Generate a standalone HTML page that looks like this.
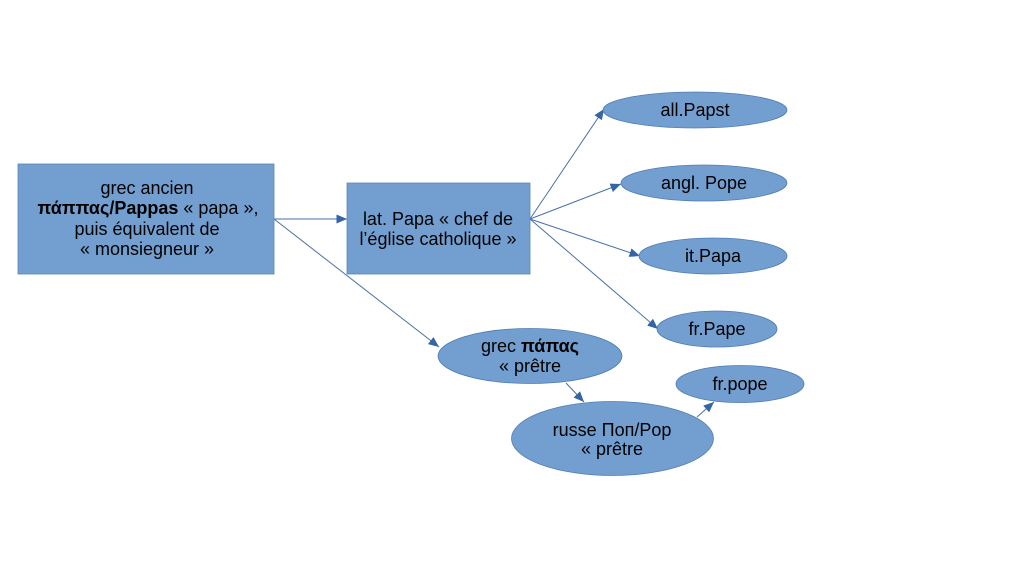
<!DOCTYPE html>
<html>
<head>
<meta charset="utf-8">
<style>
  html, body { margin:0; padding:0; background:#ffffff; }
  svg { display:block; }
  text { font-family: "Liberation Sans", "DejaVu Sans", sans-serif; font-size:18px; fill:#000; }
</style>
</head>
<body>
<svg width="1024" height="576" viewBox="0 0 1024 576" xmlns="http://www.w3.org/2000/svg">
  <defs>
    <marker id="ah" markerUnits="userSpaceOnUse" markerWidth="11" markerHeight="9" refX="10.5" refY="4.5" orient="auto">
      <path d="M0,0 L10.5,4.5 L0,9 z" fill="#3465a4"/>
    </marker>
  </defs>
  <rect width="1024" height="576" fill="#ffffff"/>

  <!-- connectors -->
  <g stroke="#4a70a8" stroke-width="1" fill="none" marker-end="url(#ah)">
    <line x1="274" y1="219" x2="347" y2="219"/>
    <line x1="274" y1="219" x2="439" y2="347"/>
    <line x1="530" y1="219" x2="604" y2="109"/>
    <line x1="530" y1="219" x2="621" y2="184"/>
    <line x1="530" y1="219" x2="640" y2="256"/>
    <line x1="530" y1="219" x2="658" y2="329"/>
    <line x1="566" y1="383" x2="584" y2="402"/>
    <line x1="697" y1="417" x2="714" y2="402"/>
  </g>

  <!-- boxes -->
  <rect x="18" y="164" width="256" height="110" fill="#729fcf" stroke="#5a85b8" stroke-width="0.8"/>
  <rect x="347" y="183" width="183" height="91" fill="#729fcf" stroke="#5a85b8" stroke-width="0.8"/>

  <!-- ellipses -->
  <g fill="#729fcf" stroke="#4f7db5" stroke-width="0.8">
    <ellipse cx="695" cy="110" rx="92" ry="18"/>
    <ellipse cx="704" cy="183" rx="83" ry="18"/>
    <ellipse cx="713" cy="256" rx="74" ry="18"/>
    <ellipse cx="717" cy="329" rx="60" ry="18"/>
    <ellipse cx="530" cy="356" rx="92" ry="27.5"/>
    <ellipse cx="612.5" cy="438.5" rx="101" ry="37"/>
    <ellipse cx="740" cy="384" rx="64" ry="18.5"/>
  </g>

  <!-- texts -->
  <g text-anchor="middle">
    <text x="147" y="194">grec ancien</text>
    <text x="148" y="214"><tspan font-weight="bold">πάππας/Pappas</tspan> « papa »,</text>
    <text x="147" y="235">puis équivalent de</text>
    <text x="147" y="255">« monsiegneur »</text>

    <text x="438" y="225">lat. Papa « chef de</text>
    <text x="438" y="245">l’église catholique »</text>

    <text x="695" y="116">all.Papst</text>
    <text x="704" y="189">angl. Pope</text>
    <text x="713" y="262">it.Papa</text>
    <text x="717" y="335">fr.Pape</text>

    <text x="530" y="352">grec <tspan font-weight="bold">πάπας</tspan></text>
    <text x="530" y="372">« prêtre</text>

    <text x="612" y="436">russe Поп/Pop</text>
    <text x="612" y="455">« prêtre</text>

    <text x="740" y="390">fr.pope</text>
  </g>
</svg>
</body>
</html>
